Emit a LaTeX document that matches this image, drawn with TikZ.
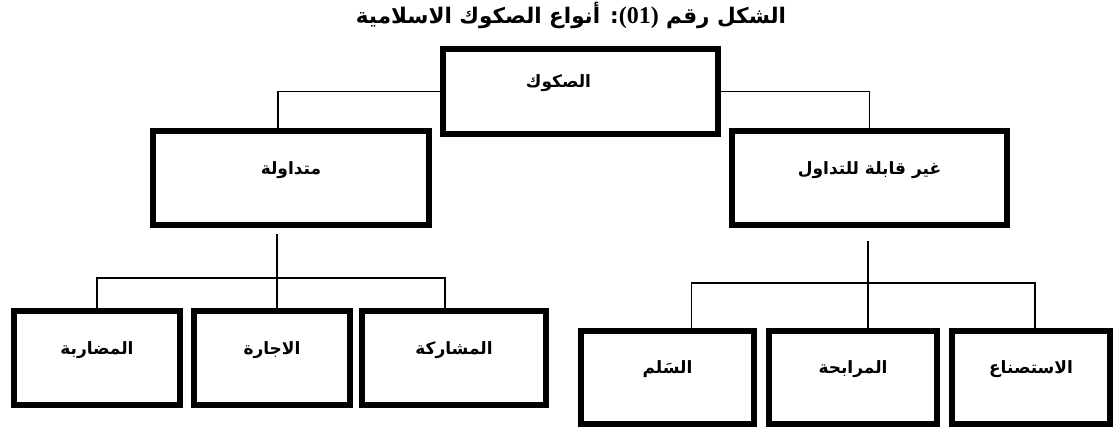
\documentclass[tikz,border=0pt]{standalone}
\usepackage{fontspec}
\newfontfamily\arabicfont[Script=Arabic]{DejaVu Sans}
\newfontfamily\latinfont{Liberation Serif}
\TeXXeTstate=1

\begin{document}
\begin{tikzpicture}[
  x=1pt, y=-1pt,
  box/.style={draw, line width=6pt, rectangle, minimum height=94pt, align=center,
    font=\arabicfont\bfseries\fontsize{17}{20}\selectfont, text height=12pt, text depth=20pt},
  conn/.style={line width=1.3pt},
  title/.style={font=\arabicfont\bfseries\fontsize{21.5}{24}\selectfont}
]
\useasboundingbox (0,0) rectangle (1115,428);

% Title
\node[title] (title) at (571,15) {\beginR الشكل رقم \beginL{\latinfont\bfseries\fontsize{24}{26}\selectfont(01)}\endL: أنواع الصكوك الاسلامية\endR};

% Top and second level
\node[box, minimum width=275pt, minimum height=85pt] (sukuk) at (580.5,91.5) {\beginR الصكوك\endR\hspace*{44pt}};
\node[box, minimum width=276pt] (tradable) at (291,178) {\beginR متداولة\endR};
\node[box, minimum width=275pt] (nontradable) at (869.5,178) {\beginR غير قابلة للتداول\endR};

% Tradable types
\node[box, minimum width=166pt] (mudaraba) at (97,358) {\beginR المضاربة\endR};
\node[box, minimum width=156pt] (ijara) at (272,358) {\beginR الاجارة\endR};
\node[box, minimum width=184pt] (musharaka) at (454,358) {\beginR المشاركة\endR};

% Non tradable types
\node[box, minimum width=173pt, minimum height=93pt] (salam) at (667.5,377.5) {\beginR السَلم\endR};
\node[box, minimum width=168pt, minimum height=93pt] (murabaha) at (853,377.5) {\beginR المرابحة\endR};
\node[box, minimum width=158pt, minimum height=93pt] (istisna) at (1031,377.5) {\beginR الاستصناع\endR};

% Bus points
\coordinate (busL) at (277,278);
\coordinate (busR) at (868,283);

% Connections
\draw[conn] (sukuk.west) -| ([xshift=-13pt]tradable.north);
\draw[conn] (sukuk.east) -| (nontradable.north);

\draw[conn] ([yshift=-6pt]tradable.south -| busL) -- (busL |- ijara.north);
\draw[conn] (mudaraba.north) |- (busL) -| ([xshift=-9pt]musharaka.north);

\draw[conn] ([yshift=-13pt]nontradable.south -| busR) -- (busR |- murabaha.north);
\draw[conn] ([xshift=24pt]salam.north) |- (busR) -| ([xshift=4pt]istisna.north);

\end{tikzpicture}
\end{document}
